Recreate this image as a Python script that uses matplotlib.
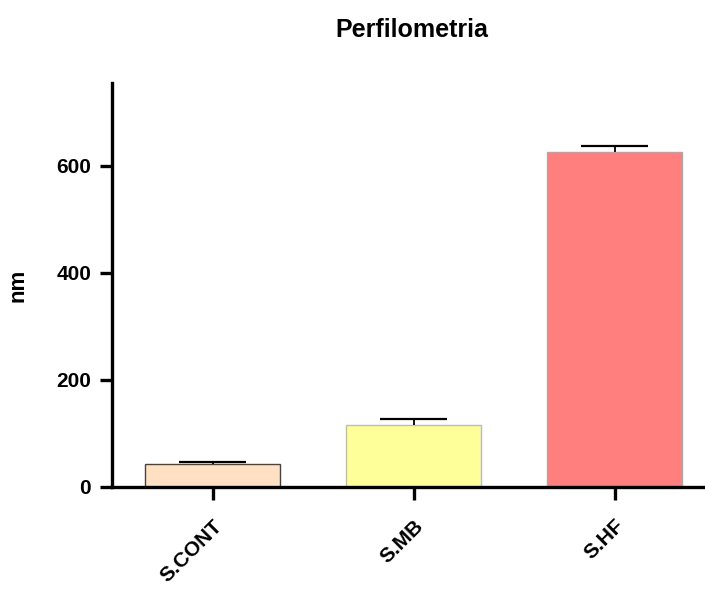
import matplotlib
matplotlib.use("Agg")
import matplotlib.pyplot as plt

categories = ["S.CONT", "S.MB", "S.HF"]
means = [43, 116.5, 626]
errors = [4.5, 10, 11]
bar_colors = ["#FFE0C2", "#FFFF99", "#FF7F7F"]
edge_colors = ["#444444", "#BBBBBB", "#AAAAAA"]
y_ticks = [0, 200, 400, 600]

plt.rcParams["font.family"] = ["Liberation Sans", "DejaVu Sans"]
plt.rcParams["font.weight"] = "bold"

fig = plt.figure(figsize=(7.05, 5.99), dpi=100)
W, H = 705, 599
left, right, bottom, top = 112, 705, 487, 83
ax = fig.add_axes([left / W, (H - bottom) / H, (right - left) / W, (bottom - top) / H])

bar_width = 0.67
x = list(range(len(categories)))
ax.bar(x, means, width=bar_width, color=bar_colors, edgecolor=edge_colors,
       linewidth=1.0, zorder=2)

# upper error bars only: stem from the bar top plus a cap half the bar wide
tops = [m + e for m, e in zip(means, errors)]
ax.vlines(x, means, tops, colors="black", linewidth=1.3, zorder=3)
ax.hlines(tops, [xi - bar_width / 4 for xi in x], [xi + bar_width / 4 for xi in x],
          colors="black", linewidth=1.6, zorder=3)

ax.set_xlim(-0.5, 2.45)
ax.set_ylim(0, 755)
ax.set_yticks(y_ticks)
ax.set_yticklabels([str(v) for v in y_ticks], fontsize=15, fontweight="bold")
ax.set_xticks(x)
ax.set_xticklabels(categories, rotation=45, ha="right", va="top",
                   rotation_mode="anchor", fontsize=15, fontweight="bold")

for side in ("top", "right"):
    ax.spines[side].set_visible(False)
for side in ("left", "bottom"):
    ax.spines[side].set_linewidth(2.4)
ax.tick_params(axis="both", width=2.4, length=9, direction="out", pad=6)
ax.tick_params(axis="x", pad=12)

ax.set_ylabel("nm", fontsize=16, fontweight="bold", labelpad=20)
fig.text(412 / W, 1 - 30 / H, "Perfilometria", ha="center", va="center",
         fontsize=18, fontweight="bold")

fig.savefig("out.png", dpi=100)
